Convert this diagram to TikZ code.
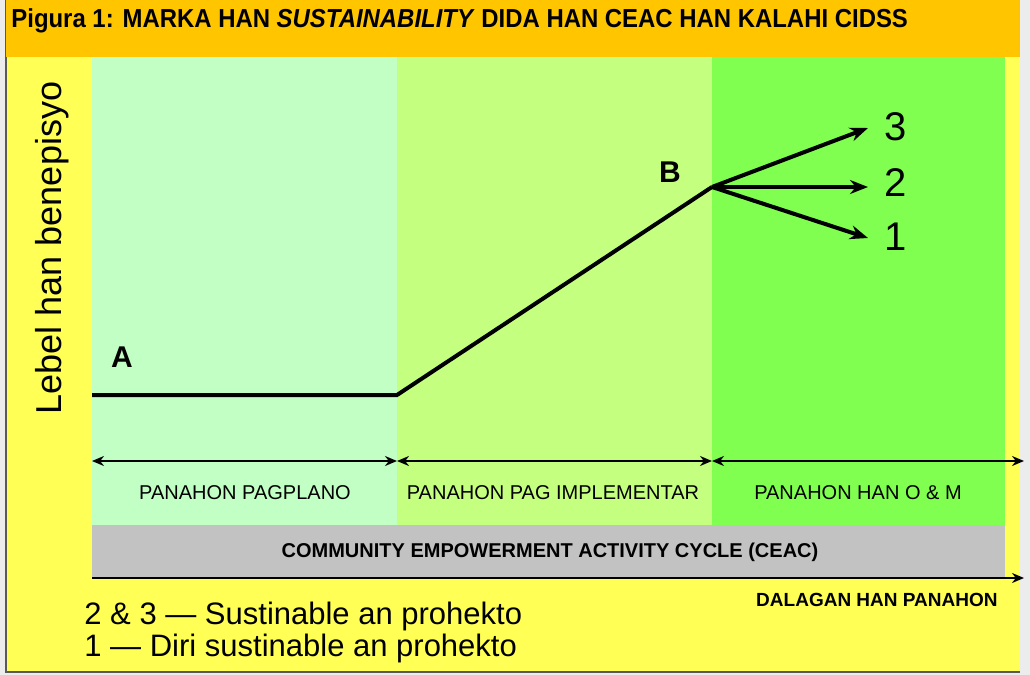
\documentclass[tikz,border=0pt]{standalone}
\usepackage{fontspec}
\setmainfont{Liberation Sans}
\newfontfamily\narrowfont[FakeStretch=0.92]{Liberation Sans}
\usetikzlibrary{arrows.meta, positioning}
\definecolor{titlebar}{HTML}{FFC600}
\definecolor{bgyellow}{HTML}{FFFF55}
\definecolor{planogreen}{HTML}{C2FFC4}
\definecolor{implgreen}{HTML}{C4FF80}
\definecolor{omgreen}{HTML}{80FF50}
\definecolor{ceacgray}{HTML}{C2C2C2}
\tikzstyle{benefit} = [line width=2pt, line join=miter]
\tikzstyle{branch} = [line width=2pt, -{Stealth[length=9pt, width=7pt]}]
\tikzstyle{phase} = [line width=1.2pt, {Stealth[length=6pt, width=5pt]}-{Stealth[length=6pt, width=5pt]}]
\tikzstyle{timeaxis} = [line width=1.2pt, -{Stealth[length=6pt, width=5pt]}]
\tikzstyle{phaselabel} = [font=\fontsize{10}{11}\selectfont, inner sep=1pt]
\tikzstyle{point} = [font=\bfseries\fontsize{15}{16}\selectfont, inner sep=1pt]
\tikzstyle{outcome} = [font=\fontsize{20}{21}\selectfont, inner sep=1pt, anchor=west]
\tikzstyle{legend} = [anchor=west, inner sep=0pt, font=\fontsize{15.5}{16}\selectfont]

\begin{document}
\begin{tikzpicture}[x=0.5pt, y=-0.5pt]
\useasboundingbox (0,0) rectangle (1030,675);
% marco ngan titulo
\fill[gray!15] (0,0) rectangle (1030,675);
\fill[bgyellow] (6,0) rectangle (1020,672);
\draw[gray!70!black, line width=0.8pt] (6,0) -- (6,672) -- (1020,672);
\fill[titlebar] (6,0) rectangle (1020,57);
\node (title) [anchor=west, inner sep=0pt, font=\narrowfont\bfseries\fontsize{13}{14}\selectfont] at (11,21)
  {Pigura 1: MARKA HAN \textit{SUSTAINABILITY} DIDA HAN CEAC HAN KALAHI CIDSS};

% mga panahon
\fill[planogreen] (92,57) rectangle (397,525);
\fill[implgreen] (397,57) rectangle (712,525);
\fill[omgreen] (712,57) rectangle (1005,525);
\fill[ceacgray] (92,525) rectangle (1005,578);

\node (ylabel) [rotate=90, inner sep=0pt, font=\fontsize{18}{19}\selectfont] at (52,248) {Lebel han benepisyo};

% linya han benepisyo
\coordinate (A0) at (92,395);
\coordinate (A1) at (397,395);
\coordinate (B) at (712,187);
\node (A) [point] at (122,357) {A};
\node (Bl) [point] at (670,172) {B};
\draw [benefit] (A0) -- (A1) -- (B);

\node (n3) [outcome] at (882,127) {3};
\node (n2) [outcome] at (882,183) {2};
\node (n1) [outcome] at (882,237) {1};
\coordinate (tip3) at (868,128);
\coordinate (tip2) at (868,187);
\coordinate (tip1) at (868,238);
\draw [branch] (B) -- (tip3);
\draw [branch] (B) -- (tip2);
\draw [branch] (B) -- (tip1);

% mga pana
\coordinate (p0) at (92,461);
\coordinate (p1) at (397,461);
\coordinate (p2) at (712,461);
\coordinate (p3) at (1024,461);
\draw [phase] (p0) -- (p1);
\draw [phase] (p1) -- (p2);
\draw [phase] (p2) -- (p3);
\node (plano) [phaselabel] at (245,493) {PANAHON PAGPLANO};
\node (impl) [phaselabel] at (553,493) {PANAHON PAG IMPLEMENTAR};
\node (om) [phaselabel] at (858,493) {PANAHON HAN O \& M};

\node (ceac) [font=\bfseries\fontsize{10}{11}\selectfont] at (550,552) {COMMUNITY EMPOWERMENT ACTIVITY CYCLE (CEAC)};
\coordinate (t0) at (92,578);
\coordinate (t1) at (1024,578);
\draw [timeaxis] (t0) -- (t1);
\node (dalagan) [anchor=east, inner sep=0pt, font=\bfseries\fontsize{9.5}{10}\selectfont] at (998,600) {DALAGAN HAN PANAHON};

% leyenda
\node (leg1) [legend] at (84,616) {2 \& 3 --- Sustinable an prohekto};
\node (leg2) [legend] at (84,648) {1 --- Diri sustinable an prohekto};
\end{tikzpicture}
\end{document}
